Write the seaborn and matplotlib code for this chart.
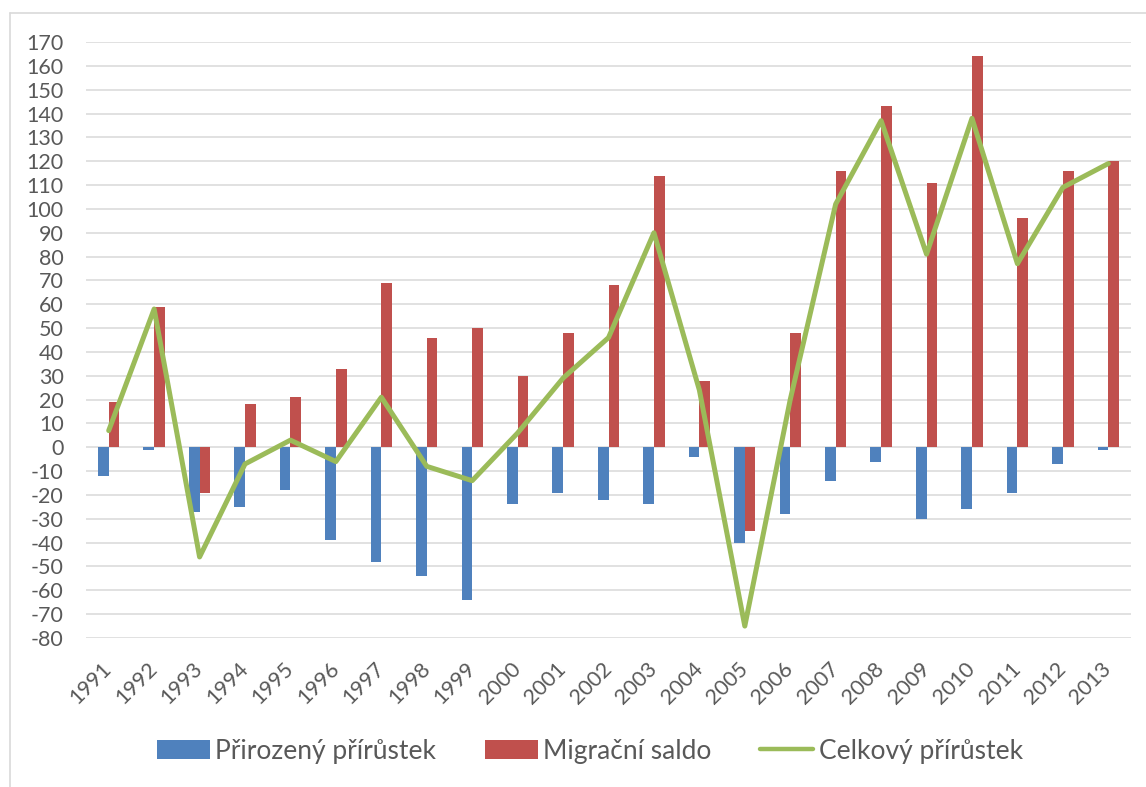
import numpy as np
import pandas as pd
import matplotlib
matplotlib.use("Agg")
import matplotlib.pyplot as plt
import seaborn as sns
from matplotlib.patches import Patch
from matplotlib.lines import Line2D

years = [str(y) for y in range(1991, 2014)]
prirozeny = [-12, -1, -27, -25, -18, -39, -48, -54, -64, -24, -19, -22, -24, -4,
             -40, -28, -14, -6, -30, -26, -19, -7, -1]
migracni = [19, 59, -19, 18, 21, 33, 69, 46, 50, 30, 48, 68, 114, 28,
            -35, 48, 116, 143, 111, 164, 96, 116, 120]
celkovy = [7, 58, -46, -7, 3, -6, 21, -8, -14, 6, 29, 46, 90, 24,
           -75, 20, 102, 137, 81, 138, 77, 109, 119]
series_names = ["Přirozený přírůstek", "Migrační saldo", "Celkový přírůstek"]
yticks = list(range(-80, 171, 10))

BLUE, RED, GREEN = "#4F81BD", "#C0504D", "#9BBB59"
TXT = "#595959"
GRID = "#D9D9D9"

sns.set_theme(style="white")
plt.rcParams["font.family"] = ["Lato", "DejaVu Sans"]

df = pd.DataFrame({
    "year": years * 2,
    "value": prirozeny + migracni,
    "series": [series_names[0]] * len(years) + [series_names[1]] * len(years),
})

fig = plt.figure(figsize=(11.46, 7.87), dpi=100)
ax = fig.add_axes([86 / 1146, 1 - 638 / 787, (1131 - 86) / 1146, (638 - 42) / 787])

sns.barplot(data=df, x="year", y="value", hue="series", order=years,
            hue_order=series_names[:2], palette=[BLUE, RED], saturation=1,
            width=0.47, gap=0, dodge=True, edgecolor="none", linewidth=0,
            ax=ax, legend=False, zorder=2)
sns.lineplot(x=np.arange(len(years)), y=celkovy, color=GREEN, linewidth=3.6,
             ax=ax, zorder=3, solid_joinstyle="round", solid_capstyle="round")

ax.set_xlim(-0.5, len(years) - 0.5)
ax.set_ylim(-80, 170)
ax.set_yticks(yticks)
ax.set_yticklabels([str(v) for v in yticks])
ax.yaxis.grid(True, color=GRID, linewidth=1.1, zorder=0)
ax.set_axisbelow(True)
for s in ax.spines.values():
    s.set_visible(False)
ax.set_xlabel("")
ax.set_ylabel("")
ax.tick_params(axis="y", length=0, pad=16, labelsize=15.5, labelcolor=TXT)
ax.tick_params(axis="x", length=0, pad=20, labelsize=15.5, labelcolor=TXT)
for lbl in ax.get_yticklabels():
    lbl.set_horizontalalignment("right")
ax.set_xticks(np.arange(len(years)))
ax.set_xticklabels(years, rotation=45, ha="right", va="center",
                   rotation_mode="anchor")

handles = [Patch(facecolor=BLUE, edgecolor="none"),
           Patch(facecolor=RED, edgecolor="none"),
           Line2D([0], [0], color=GREEN, linewidth=3.2)]
leg = fig.legend(handles, series_names, loc="center",
                 bbox_to_anchor=(590 / 1146, 1 - 751 / 787), ncol=3,
                 frameon=False, fontsize=19, handlelength=2.0,
                 handleheight=0.7, handletextpad=0.2, columnspacing=1.85)
for t in leg.get_texts():
    t.set_color(TXT)

# chart-area border (top and left visible)
fig.add_artist(Line2D([10 / 1146, 10 / 1146], [0, 1 - 13 / 787],
                      transform=fig.transFigure, color=GRID, linewidth=1.2))
fig.add_artist(Line2D([10 / 1146, 1], [1 - 13 / 787, 1 - 13 / 787],
                      transform=fig.transFigure, color=GRID, linewidth=1.2))

fig.savefig("out.png", dpi=100)
